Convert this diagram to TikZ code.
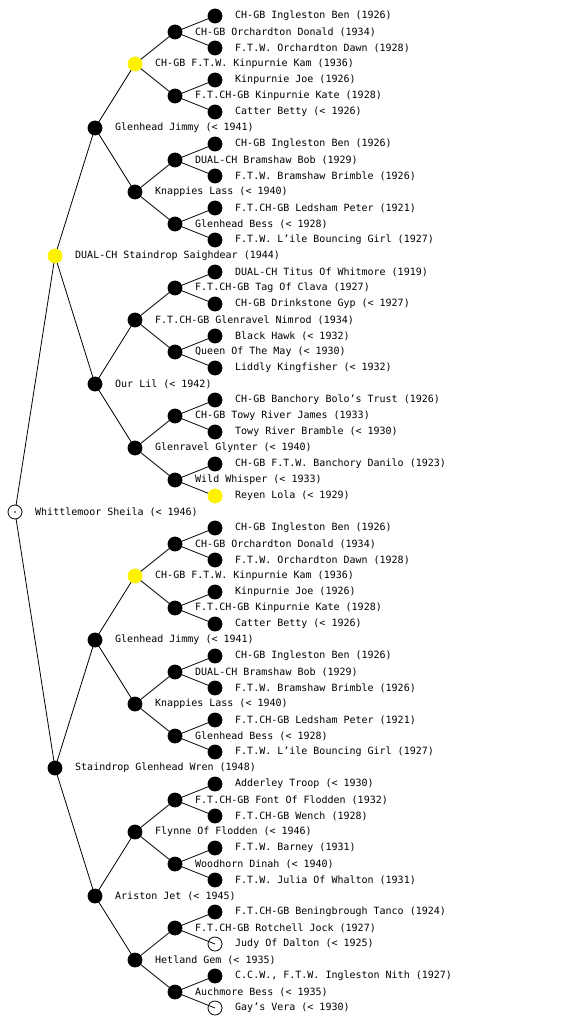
\documentclass[tikz,border=0pt]{standalone}
\usepackage{fontspec}
\newfontfamily\pedfont{DejaVu Sans Mono}
\usetikzlibrary{backgrounds}
\tikzset{
  dog/.style={circle,draw=black,line width=0.8pt,minimum size=14pt,inner sep=0pt},
  blk/.style={dog,fill=black},
  ylw/.style={dog,draw=yellow,fill=yellow},
  wht/.style={dog},
  rootdog/.style={dog,fill=white},
  lbl/.style={anchor=west,inner sep=0pt,font=\pedfont\fontsize{10}{11}\selectfont,text=black},
  edge/.style={draw=black,line width=0.8pt}
}
\newcommand\pnode[5]{%
  \node[#1] (#2) at (#3pt,-#4pt) {};
  \node[lbl] (#2t) at (#3pt+20pt,-#4pt) {#5};}
\begin{document}
\begin{tikzpicture}
\useasboundingbox (0pt,0pt) rectangle (560pt,-1024pt);
% root
\pnode{rootdog}{r}{15}{512}{Whittlemoor Sheila (< 1946)}
\fill[black] (r.center) circle (0.9pt);
% level 1
\pnode{ylw}{a0}{55}{256}{DUAL-CH Staindrop Saighdear (1944)}
\pnode{blk}{a1}{55}{768}{Staindrop Glenhead Wren (1948)}
% level 2
\pnode{blk}{b0}{95}{128}{Glenhead Jimmy (< 1941)}
\pnode{blk}{b1}{95}{384}{Our Lil (< 1942)}
\pnode{blk}{b2}{95}{640}{Glenhead Jimmy (< 1941)}
\pnode{blk}{b3}{95}{896}{Ariston Jet (< 1945)}
% level 3
\pnode{ylw}{c0}{135}{64}{CH-GB F.T.W. Kinpurnie Kam (1936)}
\pnode{blk}{c1}{135}{192}{Knappies Lass (< 1940)}
\pnode{blk}{c2}{135}{320}{F.T.CH-GB Glenravel Nimrod (1934)}
\pnode{blk}{c3}{135}{448}{Glenravel Glynter (< 1940)}
\pnode{ylw}{c4}{135}{576}{CH-GB F.T.W. Kinpurnie Kam (1936)}
\pnode{blk}{c5}{135}{704}{Knappies Lass (< 1940)}
\pnode{blk}{c6}{135}{832}{Flynne Of Flodden (< 1946)}
\pnode{blk}{c7}{135}{960}{Hetland Gem (< 1935)}
% level 4
\pnode{blk}{d0}{175}{32}{CH-GB Orchardton Donald (1934)}
\pnode{blk}{d1}{175}{96}{F.T.CH-GB Kinpurnie Kate (1928)}
\pnode{blk}{d2}{175}{160}{DUAL-CH Bramshaw Bob (1929)}
\pnode{blk}{d3}{175}{224}{Glenhead Bess (< 1928)}
\pnode{blk}{d4}{175}{288}{F.T.CH-GB Tag Of Clava (1927)}
\pnode{blk}{d5}{175}{352}{Queen Of The May (< 1930)}
\pnode{blk}{d6}{175}{416}{CH-GB Towy River James (1933)}
\pnode{blk}{d7}{175}{480}{Wild Whisper (< 1933)}
\pnode{blk}{d8}{175}{544}{CH-GB Orchardton Donald (1934)}
\pnode{blk}{d9}{175}{608}{F.T.CH-GB Kinpurnie Kate (1928)}
\pnode{blk}{d10}{175}{672}{DUAL-CH Bramshaw Bob (1929)}
\pnode{blk}{d11}{175}{736}{Glenhead Bess (< 1928)}
\pnode{blk}{d12}{175}{800}{F.T.CH-GB Font Of Flodden (1932)}
\pnode{blk}{d13}{175}{864}{Woodhorn Dinah (< 1940)}
\pnode{blk}{d14}{175}{928}{F.T.CH-GB Rotchell Jock (1927)}
\pnode{blk}{d15}{175}{992}{Auchmore Bess (< 1935)}
% level 5
\pnode{blk}{e0}{215}{16}{CH-GB Ingleston Ben (1926)}
\pnode{blk}{e1}{215}{48}{F.T.W. Orchardton Dawn (1928)}
\pnode{blk}{e2}{215}{80}{Kinpurnie Joe (1926)}
\pnode{blk}{e3}{215}{112}{Catter Betty (< 1926)}
\pnode{blk}{e4}{215}{144}{CH-GB Ingleston Ben (1926)}
\pnode{blk}{e5}{215}{176}{F.T.W. Bramshaw Brimble (1926)}
\pnode{blk}{e6}{215}{208}{F.T.CH-GB Ledsham Peter (1921)}
\pnode{blk}{e7}{215}{240}{F.T.W. L’ile Bouncing Girl (1927)}
\pnode{blk}{e8}{215}{272}{DUAL-CH Titus Of Whitmore (1919)}
\pnode{blk}{e9}{215}{304}{CH-GB Drinkstone Gyp (< 1927)}
\pnode{blk}{e10}{215}{336}{Black Hawk (< 1932)}
\pnode{blk}{e11}{215}{368}{Liddly Kingfisher (< 1932)}
\pnode{blk}{e12}{215}{400}{CH-GB Banchory Bolo’s Trust (1926)}
\pnode{blk}{e13}{215}{432}{Towy River Bramble (< 1930)}
\pnode{blk}{e14}{215}{464}{CH-GB F.T.W. Banchory Danilo (1923)}
\pnode{ylw}{e15}{215}{496}{Reyen Lola (< 1929)}
\pnode{blk}{e16}{215}{528}{CH-GB Ingleston Ben (1926)}
\pnode{blk}{e17}{215}{560}{F.T.W. Orchardton Dawn (1928)}
\pnode{blk}{e18}{215}{592}{Kinpurnie Joe (1926)}
\pnode{blk}{e19}{215}{624}{Catter Betty (< 1926)}
\pnode{blk}{e20}{215}{656}{CH-GB Ingleston Ben (1926)}
\pnode{blk}{e21}{215}{688}{F.T.W. Bramshaw Brimble (1926)}
\pnode{blk}{e22}{215}{720}{F.T.CH-GB Ledsham Peter (1921)}
\pnode{blk}{e23}{215}{752}{F.T.W. L’ile Bouncing Girl (1927)}
\pnode{blk}{e24}{215}{784}{Adderley Troop (< 1930)}
\pnode{blk}{e25}{215}{816}{F.T.CH-GB Wench (1928)}
\pnode{blk}{e26}{215}{848}{F.T.W. Barney (1931)}
\pnode{blk}{e27}{215}{880}{F.T.W. Julia Of Whalton (1931)}
\pnode{blk}{e28}{215}{912}{F.T.CH-GB Beningbrough Tanco (1924)}
\pnode{wht}{e29}{215}{944}{Judy Of Dalton (< 1925)}
\pnode{blk}{e30}{215}{976}{C.C.W., F.T.W. Ingleston Nith (1927)}
\pnode{wht}{e31}{215}{1008}{Gay’s Vera (< 1930)}
% connectors
\begin{scope}[on background layer]
\draw[edge] (r.center) -- (a0.center);
\draw[edge] (r.center) -- (a1.center);
\foreach \p in {0,1}{
  \pgfmathtruncatemacro\ca{2*\p}\pgfmathtruncatemacro\cb{2*\p+1}
  \draw[edge] (a\p.center) -- (b\ca.center);
  \draw[edge] (a\p.center) -- (b\cb.center);}
\foreach \p in {0,...,3}{
  \pgfmathtruncatemacro\ca{2*\p}\pgfmathtruncatemacro\cb{2*\p+1}
  \draw[edge] (b\p.center) -- (c\ca.center);
  \draw[edge] (b\p.center) -- (c\cb.center);}
\foreach \p in {0,...,7}{
  \pgfmathtruncatemacro\ca{2*\p}\pgfmathtruncatemacro\cb{2*\p+1}
  \draw[edge] (c\p.center) -- (d\ca.center);
  \draw[edge] (c\p.center) -- (d\cb.center);}
\foreach \p in {0,...,15}{
  \pgfmathtruncatemacro\ca{2*\p}\pgfmathtruncatemacro\cb{2*\p+1}
  \draw[edge] (d\p.center) -- (e\ca.center);
  \draw[edge] (d\p.center) -- (e\cb.center);}
\end{scope}
\end{tikzpicture}
\end{document}
